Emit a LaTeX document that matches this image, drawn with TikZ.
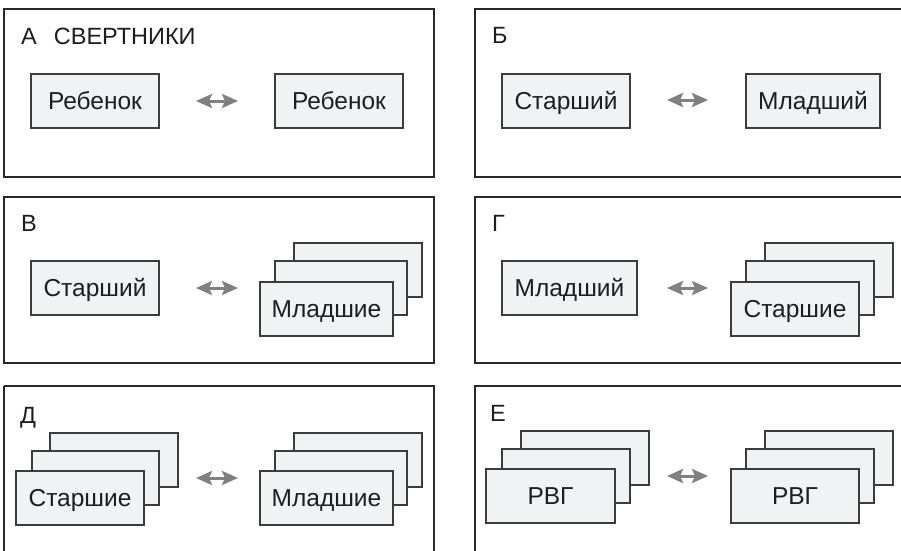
\documentclass[tikz,border=0pt]{standalone}
\usepackage{fontspec}
\setmainfont{Liberation Sans}
\usetikzlibrary{arrows.meta}
\definecolor{boxfill}{RGB}{241,242,244}
\definecolor{boxline}{RGB}{60,60,60}
\definecolor{panelline}{RGB}{40,40,40}
\definecolor{arrowgray}{RGB}{128,128,128}
\definecolor{txt}{RGB}{30,30,30}
\tikzset{
  panel/.style={draw=panelline, line width=2pt},
  bx/.style={draw=boxline, fill=boxfill, line width=1.2pt, minimum width=128pt, minimum height=54pt,
    inner sep=0pt, text height=17.4pt, text depth=0pt, text=txt, font=\fontsize{24.5}{24.5}\selectfont},
  ttl/.style={anchor=base west, inner sep=0pt, text=txt, font=\fontsize{23.5}{23.5}\selectfont},
  dbl/.style={arrowgray, line width=3pt, {Stealth[length=16pt,width=14pt,inset=3pt]}-{Stealth[length=16pt,width=14pt,inset=3pt]}}
}
\begin{document}
\begin{tikzpicture}[x=1pt,y=-1pt]
\useasboundingbox (0,0) rectangle (901,550);
\fill[white] (0,0) rectangle (901,550);
% panels
\draw[panel] (4,9) rectangle (434,177);
\draw[panel] (475,9) rectangle (920,177);
\draw[panel] (4,197) rectangle (434,363);
\draw[panel] (475,197) rectangle (920,363);
\draw[panel] (4,386) -- (4,570) (4,386) -- (434,386) -- (434,570);
\draw[panel] (475,570) -- (475,386) -- (920,386);
% titles
\node[ttl] (tA) at (21,44) {А\hspace{17pt}СВЕРТНИКИ};
\node[ttl] (tB) at (492,43) {Б};
\node[ttl] (tV) at (21,231) {В};
\node[ttl] (tG) at (492,231) {Г};
\node[ttl] (tD) at (20,423) {Д};
\node[ttl] (tE) at (490,421) {Е};
% Panel A
\node[bx] (aL) at (95,101) {Ребенок};
\node[bx] (aR) at (339,101) {Ребенок};
\coordinate (aA1) at (196,101); \coordinate (aA2) at (238,101);
\draw[dbl] (aA1) -- (aA2);
% Panel B
\node[bx] (bL) at (566,101) {Старший};
\node[bx, minimum width=134pt] (bR) at (813,101) {Младший};
\coordinate (bA1) at (667,100); \coordinate (bA2) at (708,100);
\draw[dbl] (bA1) -- (bA2);
% Panel V
\node[bx] (vL) at (95,288) {Старший};
\node[bx] (vR3) at (358,270) {};
\node[bx, minimum width=132pt] (vR2) at (341,288) {};
\node[bx, minimum width=133pt] (vR1) at (326.5,309) {Младшие};
\coordinate (vA1) at (196,288); \coordinate (vA2) at (238,288);
\draw[dbl] (vA1) -- (vA2);
% Panel G
\node[bx, minimum width=135pt] (gL) at (569.5,288) {Младший};
\node[bx] (gR3) at (829,270) {};
\node[bx] (gR2) at (810,288) {};
\node[bx] (gR1) at (795,309) {Старшие};
\coordinate (gA1) at (667,288); \coordinate (gA2) at (708,288);
\draw[dbl] (gA1) -- (gA2);
% Panel D
\node[bx] (dL3) at (114,460) {};
\node[bx, minimum width=127pt] (dL2) at (95.5,478) {};
\node[bx] (dL1) at (80,498) {Старшие};
\node[bx] (dR3) at (358,460) {};
\node[bx, minimum width=132pt] (dR2) at (341,478) {};
\node[bx, minimum width=133pt] (dR1) at (326.5,498) {Младшие};
\coordinate (dA1) at (196,478); \coordinate (dA2) at (238,478);
\draw[dbl] (dA1) -- (dA2);
% Panel E
\node[bx] (eL3) at (585,458) {};
\node[bx] (eL2) at (566,476) {};
\node[bx, minimum width=129pt] (eL1) at (550.5,496) {РВГ};
\node[bx] (eR3) at (829,458) {};
\node[bx] (eR2) at (810,476) {};
\node[bx] (eR1) at (795,496) {РВГ};
\coordinate (eA1) at (667,476); \coordinate (eA2) at (708,476);
\draw[dbl] (eA1) -- (eA2);
\end{tikzpicture}
\end{document}
